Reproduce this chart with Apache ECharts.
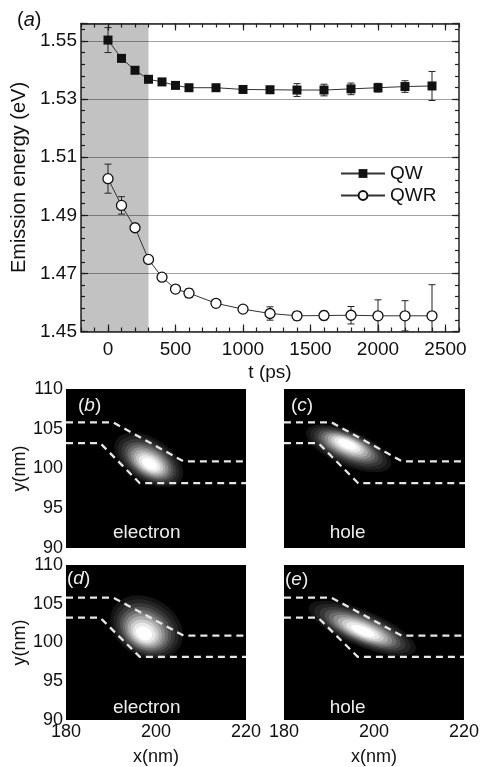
<!DOCTYPE html>
<html><head><meta charset="utf-8">
<script src="https://cdn.jsdelivr.net/npm/echarts@6/dist/echarts.min.js"></script>
<style>html,body{margin:0;padding:0;background:#fff}#c{width:482px;height:767px}</style>
</head><body><div id="c"></div>
<script>
// ---------- data: panel (a) ----------
const timePs = [0,100,200,300,400,500,600,800,1000,1200,1400,1600,1800,2000,2200,2400];
const energyQW = [1.5503,1.5440,1.5399,1.5368,1.5359,1.5347,1.5339,1.5339,1.5333,1.5332,1.5331,1.5331,1.5335,1.5339,1.5343,1.5345];
const errorQW = [0.0043,0.0010,0.0007,0.0005,0.0005,0.0005,0.0005,0.0005,0.0005,0.0006,0.0022,0.0020,0.0020,0.0015,0.0020,0.0050];
const energyQWR = [1.5026,1.4934,1.4857,1.4748,1.4687,1.4646,1.4632,1.4597,1.4577,1.4562,1.4554,1.4555,1.4556,1.4554,1.4554,1.4554];
const errorQWR = [0.0050,0.0030,0.0012,0.0005,0.0008,0.0010,0.0015,0.0010,0.0008,0.0023,0.0015,0.0015,0.0030,0.0055,0.0052,0.0107];
const seriesNames = ['QW','QWR'];
const shadeRangePs = [-200, 300];
const timeMajorTicks = [0,500,1000,1500,2000,2500];

// ---------- data: panels (b)-(e) ----------
const panelTags = ['b','c','d','e'];
const panelCarrier = ['electron','hole','electron','hole'];
const wireTopX = [180, 190.5, 206.1, 220];
const wireTopY = [105.8, 105.8, 100.9, 100.9];
const wireBottomX = [180, 187.6, 196.4, 220];
const wireBottomY = [103.2, 103.2, 98.15, 98.15];
// density blobs (one per panel b,c,d,e): outer centre, peak, major-axis tip, minor/major ratio
const blobCentreX = [198.4, 194.3, 197.9, 197.4];
const blobCentreY = [101.07, 102.54, 101.95, 101.82];
const blobPeakX = [198.7, 193.9, 197.2, 197.6];
const blobPeakY = [100.44, 103.17, 100.98, 101.4];
const blobTipX = [205.6, 203.6, 205.2, 209.2];
const blobTipY = [98.55, 100.3, 99.36, 98.96];
const blobRatio = [0.57, 0.38, 0.76, 0.31];

// ---------- styles ----------
const FONT = "'Liberation Sans', Arial, Helvetica, sans-serif";
const levelScales = [1, 0.9, 0.8, 0.71, 0.63, 0.55, 0.47, 0.39, 0.31, 0.22];
const levelColors = ['#141414','#242424','#383838','#505050','#6c6c6c','#8c8c8c','#acacac','#cccccc','#e8e8e8','#ffffff'];
const AX = '#222';

const chart = echarts.init(document.getElementById('c'));

function errorSeries(vals, errs) {
  return {
    type: 'custom', xAxisIndex: 0, yAxisIndex: 0, z: 1, silent: true,
    data: timePs.map((t, i) => [t, vals[i], errs[i]]),
    encode: { x: 0, y: 1 },
    renderItem: function (params, api) {
      const t = api.value(0), v = api.value(1), e = api.value(2);
      const top = api.coord([t, v + e]);
      const bot = api.coord([t, v - e]);
      const cs = params.coordSys;
      const ymax = cs.y + cs.height, ymin = cs.y;
      const yTop = Math.max(top[1], ymin), yBot = Math.min(bot[1], ymax);
      const x = top[0], hw = 3.5;
      const st = { stroke: '#222', lineWidth: 1 };
      const ch = [{ type: 'line', shape: { x1: x, y1: yTop, x2: x, y2: yBot }, style: st }];
      if (top[1] >= ymin) ch.push({ type: 'line', shape: { x1: x - hw, y1: yTop, x2: x + hw, y2: yTop }, style: st });
      if (bot[1] <= ymax) ch.push({ type: 'line', shape: { x1: x - hw, y1: yBot, x2: x + hw, y2: yBot }, style: st });
      return { type: 'group', children: ch };
    }
  };
}

const grids = [
  { left: 81, top: 23.5, width: 378, height: 308 },
  { left: 66, top: 389, width: 180, height: 159, show: true, backgroundColor: '#000', borderWidth: 0 },
  { left: 284, top: 389, width: 181, height: 159, show: true, backgroundColor: '#000', borderWidth: 0 },
  { left: 66, top: 565, width: 180, height: 159, show: true, backgroundColor: '#000', borderWidth: 0 },
  { left: 284, top: 565, width: 181, height: 159, show: true, backgroundColor: '#000', borderWidth: 0 }
];

const tLine = { show: true, onZero: false, lineStyle: { color: AX, width: 1.5 } };
const noLine = { show: false, onZero: false };
const xAxes = [
  { gridIndex: 0, type: 'value', min: -200, max: 2600, interval: 100, position: 'bottom',
    axisLine: tLine, axisTick: { inside: true, length: 4, lineStyle: { color: AX, width: 1.2 } },
    axisLabel: { margin: 9, fontSize: 19, fontFamily: FONT, color: '#111', formatter: v => (v % 500 === 0 && v >= 0 ? String(v) : '') },
    splitLine: { show: false },
    name: 't (ps)', nameLocation: 'middle', nameGap: 32, nameTextStyle: { fontSize: 19, fontFamily: FONT, color: '#111' } },
  { gridIndex: 0, type: 'value', min: -200, max: 2600, position: 'bottom',
    axisLine: noLine, axisTick: { inside: true, length: 7, customValues: timeMajorTicks, lineStyle: { color: AX, width: 1.2 } },
    axisLabel: { show: false }, splitLine: { show: false } },
  { gridIndex: 0, type: 'value', min: -200, max: 2600, interval: 100, position: 'top',
    axisLine: tLine, axisTick: { inside: true, length: 4, lineStyle: { color: AX, width: 1.2 } },
    axisLabel: { show: false }, splitLine: { show: false } },
  { gridIndex: 0, type: 'value', min: -200, max: 2600, position: 'top',
    axisLine: noLine, axisTick: { inside: true, length: 7, customValues: timeMajorTicks, lineStyle: { color: AX, width: 1.2 } },
    axisLabel: { show: false }, splitLine: { show: false } }
];
const yAxes = [
  { gridIndex: 0, type: 'value', min: 1.45, max: 1.556, interval: 0.02, position: 'left',
    axisLine: tLine, axisTick: { inside: true, length: 7, lineStyle: { color: AX, width: 1.2 } },
    axisLabel: { margin: 4, fontSize: 19, fontFamily: FONT, color: '#111', formatter: v => (v > 1.5505 ? '' : v.toFixed(2)) },
    splitLine: { show: true, lineStyle: { color: '#a0a0a0', width: 1 } },
    name: 'Emission energy (eV)', nameLocation: 'middle', nameGap: 47, nameRotate: 90,
    nameTextStyle: { fontSize: 20, fontFamily: FONT, color: '#111' } },
  { gridIndex: 0, type: 'value', min: 1.45, max: 1.556, interval: 0.004, position: 'left',
    axisLine: noLine, axisTick: { inside: true, length: 4, lineStyle: { color: AX, width: 1.2 } },
    axisLabel: { show: false }, splitLine: { show: false } },
  { gridIndex: 0, type: 'value', min: 1.45, max: 1.556, interval: 0.02, position: 'right',
    axisLine: tLine, axisTick: { inside: true, length: 7, lineStyle: { color: AX, width: 1.2 } },
    axisLabel: { show: false }, splitLine: { show: false } },
  { gridIndex: 0, type: 'value', min: 1.45, max: 1.556, interval: 0.004, position: 'right',
    axisLine: noLine, axisTick: { inside: true, length: 4, lineStyle: { color: AX, width: 1.2 } },
    axisLabel: { show: false }, splitLine: { show: false } }
];
for (let k = 0; k < 4; k++) {
  const bottomRow = k >= 2, leftCol = k % 2 === 0;
  xAxes.push({ gridIndex: k + 1, type: 'value', min: 180, max: 220, interval: 20,
    axisLine: noLine, axisTick: { show: false }, splitLine: { show: false },
    axisLabel: { show: bottomRow, margin: 3, fontSize: 18, fontFamily: FONT, color: '#111' },
    name: bottomRow ? 'x(nm)' : '', nameLocation: 'middle', nameGap: 28,
    nameTextStyle: { fontSize: 18, fontFamily: FONT, color: '#111' } });
  yAxes.push({ gridIndex: k + 1, type: 'value', min: 90, max: 110, interval: 5,
    axisLine: noLine, axisTick: { show: false }, splitLine: { show: false },
    axisLabel: { show: leftCol, margin: 3, fontSize: 18, fontFamily: FONT, color: '#111' },
    name: leftCol ? 'y(nm)' : '', nameLocation: 'middle', nameGap: 36, nameRotate: 90,
    nameTextStyle: { fontSize: 18, fontFamily: FONT, color: '#111' } });
}

const series = [
  errorSeries(energyQW, errorQW),
  errorSeries(energyQWR, errorQWR),
  { name: seriesNames[0], type: 'line', xAxisIndex: 0, yAxisIndex: 0, z: 3,
    data: timePs.map((t, i) => [t, energyQW[i]]),
    symbol: 'rect', symbolSize: 9, showAllSymbol: true,
    itemStyle: { color: '#111' }, lineStyle: { color: '#333', width: 1 },
    markArea: { silent: true, itemStyle: { color: 'rgba(0,0,0,0.24)' },
      data: [[{ xAxis: shadeRangePs[0] }, { xAxis: shadeRangePs[1] }]] } },
  { name: seriesNames[1], type: 'line', xAxisIndex: 0, yAxisIndex: 0, z: 3,
    data: timePs.map((t, i) => [t, energyQWR[i]]),
    symbol: 'circle', symbolSize: 10, showAllSymbol: true,
    itemStyle: { color: '#fff', borderColor: '#111', borderWidth: 1.3 }, lineStyle: { color: '#333', width: 1 } }
];

for (let k = 0; k < 4; k++) {
  series.push({
    type: 'custom', xAxisIndex: 4 + k, yAxisIndex: 4 + k, z: 2, silent: true,
    data: [[blobCentreX[k], blobCentreY[k], blobPeakX[k], blobPeakY[k], blobTipX[k], blobTipY[k], blobRatio[k]]],
    encode: { x: 0, y: 1 },
    renderItem: function (params, api) {
      const c = api.coord([api.value(0), api.value(1)]);
      const p = api.coord([api.value(2), api.value(3)]);
      const t = api.coord([api.value(4), api.value(5)]);
      const r = api.value(6);
      const ux = t[0] - c[0], uy = t[1] - c[1];
      const vx = -uy * r, vy = ux * r;
      const children = levelScales.map((s, j) => {
        const cx = p[0] + (c[0] - p[0]) * s, cy = p[1] + (c[1] - p[1]) * s;
        const pts = [];
        for (let n = 0; n < 60; n++) {
          const a = n / 60 * Math.PI * 2, ca = Math.cos(a), sa = Math.sin(a);
          pts.push([cx + s * (ca * ux + sa * vx), cy + s * (ca * uy + sa * vy)]);
        }
        return { type: 'polygon', shape: { points: pts }, style: { fill: levelColors[j] } };
      });
      return { type: 'group', children: children };
    }
  });
  const dash = { color: '#e6e6e6', width: 2.3, type: [7, 5] };
  series.push({ type: 'line', xAxisIndex: 4 + k, yAxisIndex: 4 + k, z: 4, symbol: 'none', silent: true,
    data: wireTopX.map((x, i) => [x, wireTopY[i]]), lineStyle: dash });
  series.push({ type: 'line', xAxisIndex: 4 + k, yAxisIndex: 4 + k, z: 4, symbol: 'none', silent: true,
    data: wireBottomX.map((x, i) => [x, wireBottomY[i]]), lineStyle: dash });
}

const tagPos = [[78, 396], [291, 396], [67, 569], [285, 570]];
const labelPos = [[146.7, 533], [347.7, 533], [146.7, 708], [347.7, 708]];
const graphics = [{
  type: 'text', left: 17, top: 10, z: 100,
  style: { text: '{p|(}{i|a}{p|)}', rich: {
    p: { fontSize: 20, fontFamily: FONT, fill: '#111' },
    i: { fontSize: 20, fontFamily: FONT, fontStyle: 'italic', fill: '#111' } } }
}];
for (let k = 0; k < 4; k++) {
  graphics.push({ type: 'text', left: tagPos[k][0], top: tagPos[k][1], z: 100,
    style: { text: '{p|(}{i|' + panelTags[k] + '}{p|)}', rich: {
      p: { fontSize: 19, fontFamily: FONT, fill: '#eee' },
      i: { fontSize: 19, fontFamily: FONT, fontStyle: 'italic', fill: '#eee' } } } });
  graphics.push({ type: 'text', x: labelPos[k][0], y: labelPos[k][1], z: 100,
    style: { text: panelCarrier[k], fontSize: 19, fontFamily: FONT, fill: '#eee', align: 'center', verticalAlign: 'middle' } });
}

chart.setOption({
  animation: false,
  backgroundColor: '#fff',
  grid: grids,
  xAxis: xAxes,
  yAxis: yAxes,
  legend: { data: seriesNames, orient: 'vertical', left: 335, top: 159, itemWidth: 44, itemHeight: 11, itemGap: 3,
    textStyle: { fontSize: 19, fontFamily: FONT, color: '#111' } },
  series: series,
  graphic: graphics
});
</script>
</body></html>
